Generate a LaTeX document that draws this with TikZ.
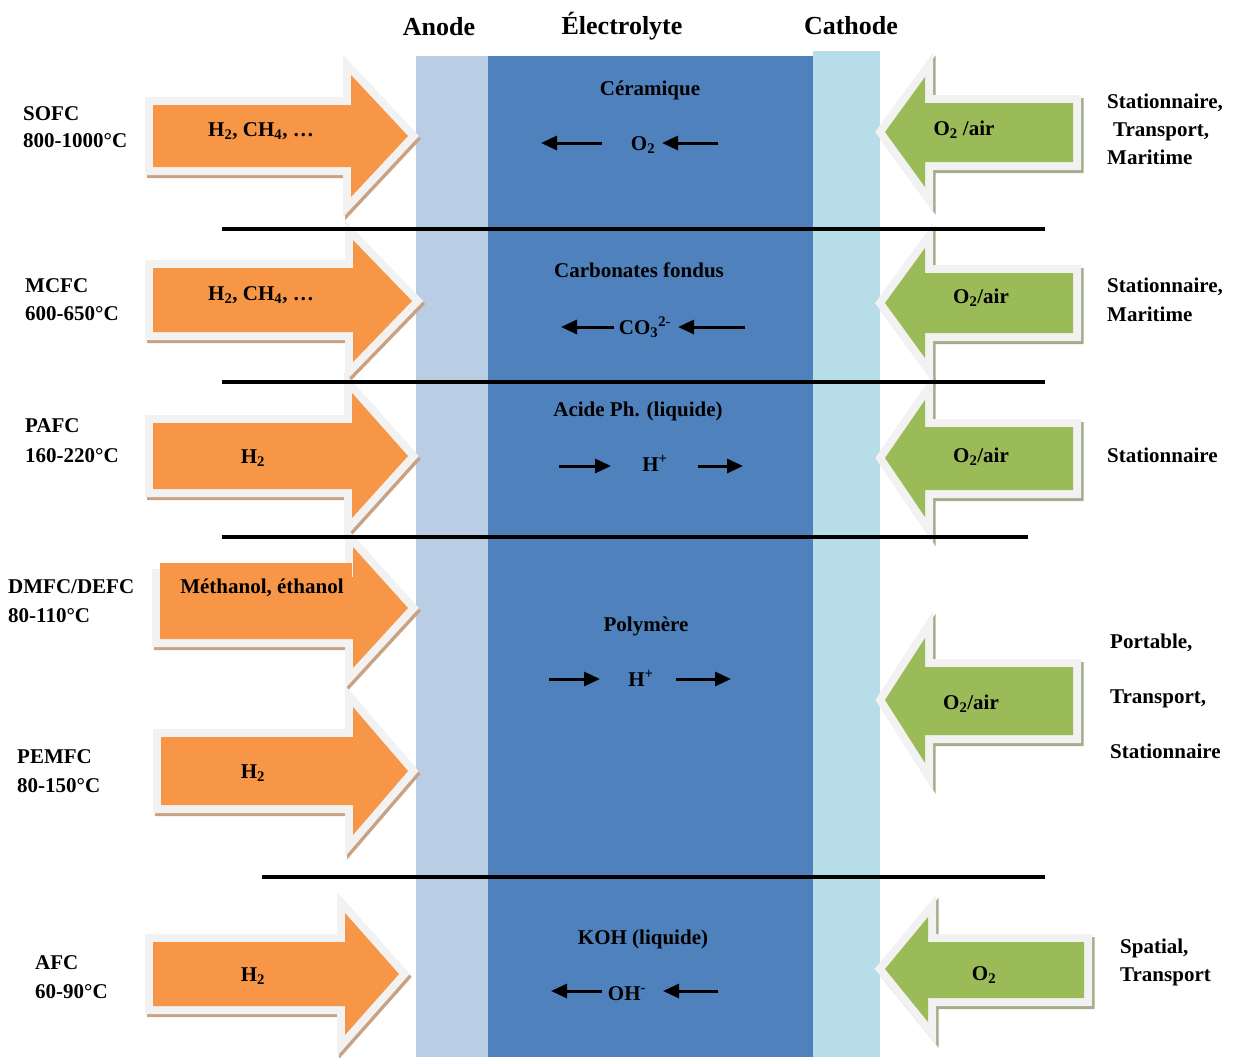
\documentclass[tikz,border=0pt]{standalone}
\usepackage{fontspec}
\setmainfont{Liberation Serif}
\usetikzlibrary{arrows.meta}

\definecolor{anodeblue}{HTML}{B9CDE5}
\definecolor{electroblue}{HTML}{4F81BD}
\definecolor{cathodeblue}{HTML}{B7DDE8}
\definecolor{fuelorange}{HTML}{F79646}
\definecolor{oxgreen}{HTML}{9BBB59}
\definecolor{rimgray}{HTML}{F2F2F2}
\definecolor{fuelshadow}{HTML}{C9A283}
\definecolor{oxshadow}{HTML}{A5AC8C}

\tikzset{
  fuelshade/.style={shift={(2,3)}, fill=fuelshadow, draw=fuelshadow, line width=16pt, line join=miter},
  fuelbody/.style={fill=fuelorange, preaction={draw=rimgray, line width=16pt, line join=miter}},
  oxshade/.style={shift={(2.5,3)}, fill=oxshadow, draw=oxshadow, line width=16pt, line join=miter},
  oxbody/.style={fill=oxgreen, preaction={draw=rimgray, line width=16pt, line join=miter}},
  separator/.style={line width=3.5pt, black},
  ion/.style={line width=3pt, -{Triangle[length=16pt,width=14pt]}},
  lbl/.style={inner sep=0pt, font=\bfseries\fontsize{21}{25}\selectfont},
  head/.style={inner sep=0pt, font=\bfseries\fontsize{26}{30}\selectfont},
}

% block arrow: style prefix, back x, body top, body bottom, head base x,
% head top, head bottom, tip x, tip y
\newcommand\bigarrow[9]{%
  \path[#1shade] (#2,#3) -- (#5,#3) -- (#5,#6) -- (#8,#9) -- (#5,#7) -- (#5,#4) -- (#2,#4) -- cycle;
  \path[#1body] (#2,#3) -- (#5,#3) -- (#5,#6) -- (#8,#9) -- (#5,#7) -- (#5,#4) -- (#2,#4) -- cycle;
}

\begin{document}
\begin{tikzpicture}[x=1pt,y=-1pt]
\useasboundingbox (0,0) rectangle (1233,1057);

% cell layers
\fill[anodeblue] (416,56) rectangle (488,1057);
\fill[electroblue] (488,56) rectangle (813,1057);
\fill[cathodeblue] (813,51) rectangle (880,1057);

% fuel inlets (anode side)
\bigarrow{fuel}{153}{105}{167}{351}{75}{197}{408}{136}
\bigarrow{fuel}{153}{268}{332}{353}{240}{362}{412}{301}
\bigarrow{fuel}{153}{423}{489}{352}{393}{518}{408}{456}
\bigarrow{fuel}{160}{577}{639}{353}{547}{668}{408}{608}
\fill[fuelorange] (160,563) rectangle (352,600);
\bigarrow{fuel}{161}{737}{805}{353}{707}{835}{408}{771}
\bigarrow{fuel}{153}{942}{1006}{345}{913}{1035}{399}{974}

% oxidant inlets (cathode side)
\bigarrow{ox}{1073}{103}{162}{925}{77}{187}{885}{132}
\bigarrow{ox}{1073}{273}{333}{925}{248}{358}{885}{303}
\bigarrow{ox}{1073}{427}{490}{925}{400}{517}{885}{458}
\bigarrow{ox}{1073}{667}{735}{925}{638}{763}{885}{700}
\bigarrow{ox}{1084}{942}{998}{928}{917}{1022}{885}{969}

% separators between cell types
\draw[separator] (222,229) -- (1045,229);
\draw[separator] (222,382) -- (1045,382);
\draw[separator] (222,537) -- (1028,537);
\draw[separator] (262,877) -- (1045,877);

% column headings
\node[head, anchor=base] (hanode) at (439,36) {Anode};
\node[head, anchor=base] (helec) at (622,34.5) {Électrolyte};
\node[head, anchor=base] (hcath) at (851,34.5) {Cathode};

% cell types and temperatures
\node[lbl, anchor=base west] (sofc) at (23,120) {SOFC};
\node[lbl, anchor=base west] (sofct) at (23,147) {800-1000°C};
\node[lbl, anchor=base west] (mcfc) at (25,292) {MCFC};
\node[lbl, anchor=base west] (mcfct) at (25,320) {600-650°C};
\node[lbl, anchor=base west] (pafc) at (25,432) {PAFC};
\node[lbl, anchor=base west] (pafct) at (25,462) {160-220°C};
\node[lbl, anchor=base west] (dmfc) at (8,593) {DMFC/DEFC};
\node[lbl, anchor=base west] (dmfct) at (8,622) {80-110°C};
\node[lbl, anchor=base west] (pemfc) at (17,763) {PEMFC};
\node[lbl, anchor=base west] (pemfct) at (17,792) {80-150°C};
\node[lbl, anchor=base west] (afc) at (35,969) {AFC};
\node[lbl, anchor=base west] (afct) at (35,998) {60-90°C};

% applications
\node[lbl, anchor=base west] (app1a) at (1107,108) {Stationnaire,};
\node[lbl, anchor=base west] (app1b) at (1113,136) {Transport,};
\node[lbl, anchor=base west] (app1c) at (1107,164) {Maritime};
\node[lbl, anchor=base west] (app2a) at (1107,292) {Stationnaire,};
\node[lbl, anchor=base west] (app2b) at (1107,321) {Maritime};
\node[lbl, anchor=base west] (app3a) at (1107,462) {Stationnaire};
\node[lbl, anchor=base west] (app4a) at (1110,648) {Portable,};
\node[lbl, anchor=base west] (app4b) at (1110,703) {Transport,};
\node[lbl, anchor=base west] (app4c) at (1110,758) {Stationnaire};
\node[lbl, anchor=base west] (app5a) at (1120,953) {Spatial,};
\node[lbl, anchor=base west] (app5b) at (1120,981) {Transport};

% fuels
\node[lbl, anchor=base] (f1) at (261,136) {H\textsubscript{2}, CH\textsubscript{4}, …};
\node[lbl, anchor=base] (f2) at (261,300) {H\textsubscript{2}, CH\textsubscript{4}, …};
\node[lbl, anchor=base] (f3) at (253,463) {H\textsubscript{2}};
\node[lbl, anchor=base] (f4) at (262,593) {Méthanol, éthanol};
\node[lbl, anchor=base] (f5) at (253,778) {H\textsubscript{2}};
\node[lbl, anchor=base] (f6) at (253,981) {H\textsubscript{2}};

% oxidants
\node[lbl, anchor=base] (o1) at (964,135) {O\textsubscript{2} /air};
\node[lbl, anchor=base] (o2) at (981,303) {O\textsubscript{2}/air};
\node[lbl, anchor=base] (o3) at (981,462) {O\textsubscript{2}/air};
\node[lbl, anchor=base] (o4) at (971,709) {O\textsubscript{2}/air};
\node[lbl, anchor=base] (o5) at (984,980) {O\textsubscript{2}};

% electrolytes and mobile ions
\node[lbl, anchor=base] (e1) at (650,95) {Céramique};
\node[lbl, anchor=base] (i1) at (643,150) {O\textsubscript{2}};
\draw[ion] (602,143) -- (541,143);
\draw[ion] (718,143) -- (662,143);

\node[lbl, anchor=base] (e2) at (639,277) {Carbonates fondus};
\node[lbl, anchor=base] (i2) at (645,334) {CO\textsubscript{3}\textsuperscript{2-}};
\draw[ion] (614,327) -- (561,327);
\draw[ion] (745,327) -- (678,327);

\node[lbl, anchor=base] (e3) at (638,416) {Acide Ph. (liquide)};
\node[lbl, anchor=base] (i3) at (655,471) {H\textsuperscript{+}};
\draw[ion] (559,466) -- (611,466);
\draw[ion] (698,466) -- (743,466);

\node[lbl, anchor=base] (e4) at (646,631) {Polymère};
\node[lbl, anchor=base] (i4) at (641,686) {H\textsuperscript{+}};
\draw[ion] (549,679) -- (600,679);
\draw[ion] (676,679) -- (731,679);

\node[lbl, anchor=base] (e5) at (643,944) {KOH (liquide)};
\node[lbl, anchor=base] (i5) at (627,1000) {OH\textsuperscript{-}};
\draw[ion] (602,991) -- (551,991);
\draw[ion] (718,991) -- (663,991);
\end{tikzpicture}
\end{document}
